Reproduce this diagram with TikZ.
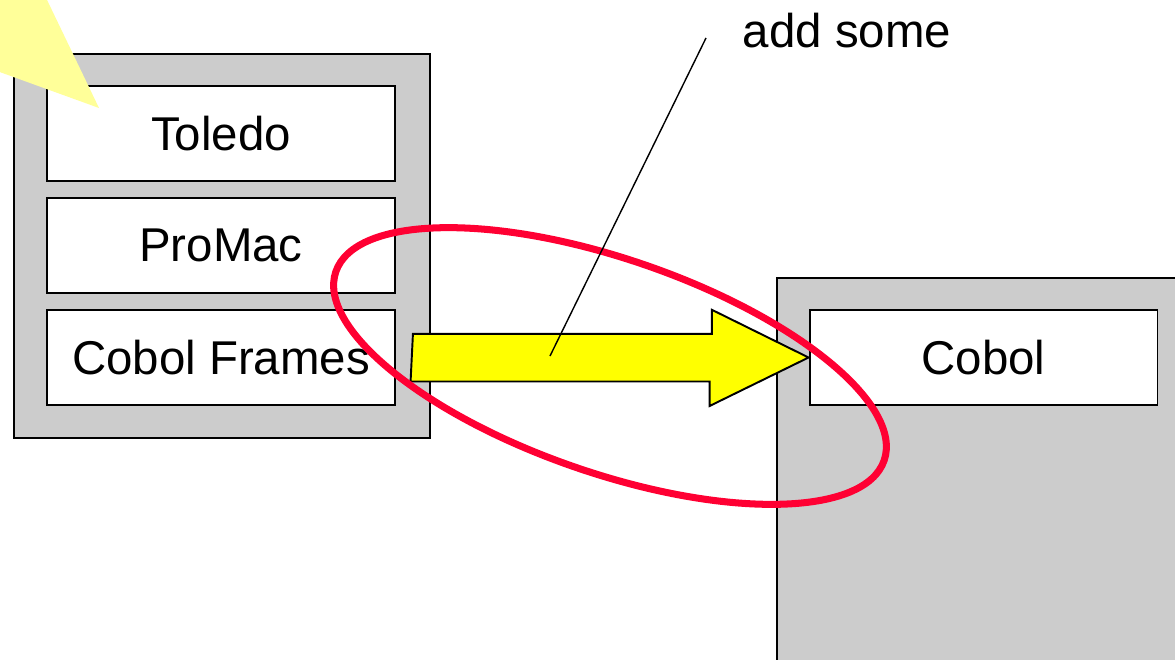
\documentclass[tikz,border=0pt]{standalone}
\usepackage{fontspec}
\setmainfont{Liberation Sans}
\usepackage{tikz}
\usetikzlibrary{shapes.geometric,positioning,calc}
\definecolor{framegrey}{RGB}{204,204,204}
\definecolor{ovalred}{RGB}{255,0,51}
\definecolor{arrowyellow}{RGB}{255,255,0}
\definecolor{notepale}{RGB}{255,255,153}

\begin{document}
\begin{tikzpicture}[x=0.02cm, y=-0.02cm,
    every node/.style={font=\fontsize{27}{32}\selectfont},
    frame/.style={rectangle, draw=black, line width=1.1pt, fill=framegrey,
        anchor=north west, inner sep=0pt},
    box/.style={rectangle, draw=black, line width=1.1pt, fill=white,
        minimum width=6.96cm, minimum height=1.9cm, inner sep=0pt},
    bigarrow/.style={draw=black, line width=1.1pt, fill=arrowyellow},
    oval/.style={ellipse, draw=ovalred, line width=4pt, inner sep=0pt,
        minimum width=11.6cm, minimum height=4.28cm, rotate=-19}
]
    \useasboundingbox (0,0) rectangle (1175,659);
    \clip (0,0) rectangle (1175,659);

    % host systems
    \node[frame, minimum width=8.32cm, minimum height=7.68cm] (client) at (13,53) {};
    \node[frame, minimum width=9cm, minimum height=8cm] (host) at (776,277) {};

    \node[box] (toledo) at (221,133.5) {Toledo};
    \node[box, below=0.30cm of toledo] (promac) {ProMac};
    \node[box, below=0.30cm of promac] (frames) {Cobol Frames};
    \node[box] (cobol) at (983.5,357.5) {Cobol};

    % migration arrow
    \draw[bigarrow] ($(frames.east)+(17,-23.5)$) -- ++(299,0) -- ++(0,-24)
        -- (cobol.west) -- ++(-99,48.5) -- ++(0,-24.5) -- ++(-299,0) -- cycle;

    \node[oval] (hilite) at (610,366) {};

    % annotation
    \node (note) at (847,31) {add some};
    \coordinate (leader) at (706,38);
    \coordinate (pin) at (550,356);
    \draw[line width=0.8pt] (leader) -- (pin);

    % callout tip from the top left
    \fill[notepale] (99,108) -- (23,-50) -- (-50,-50) -- (-50,54) -- cycle;
\end{tikzpicture}
\end{document}
